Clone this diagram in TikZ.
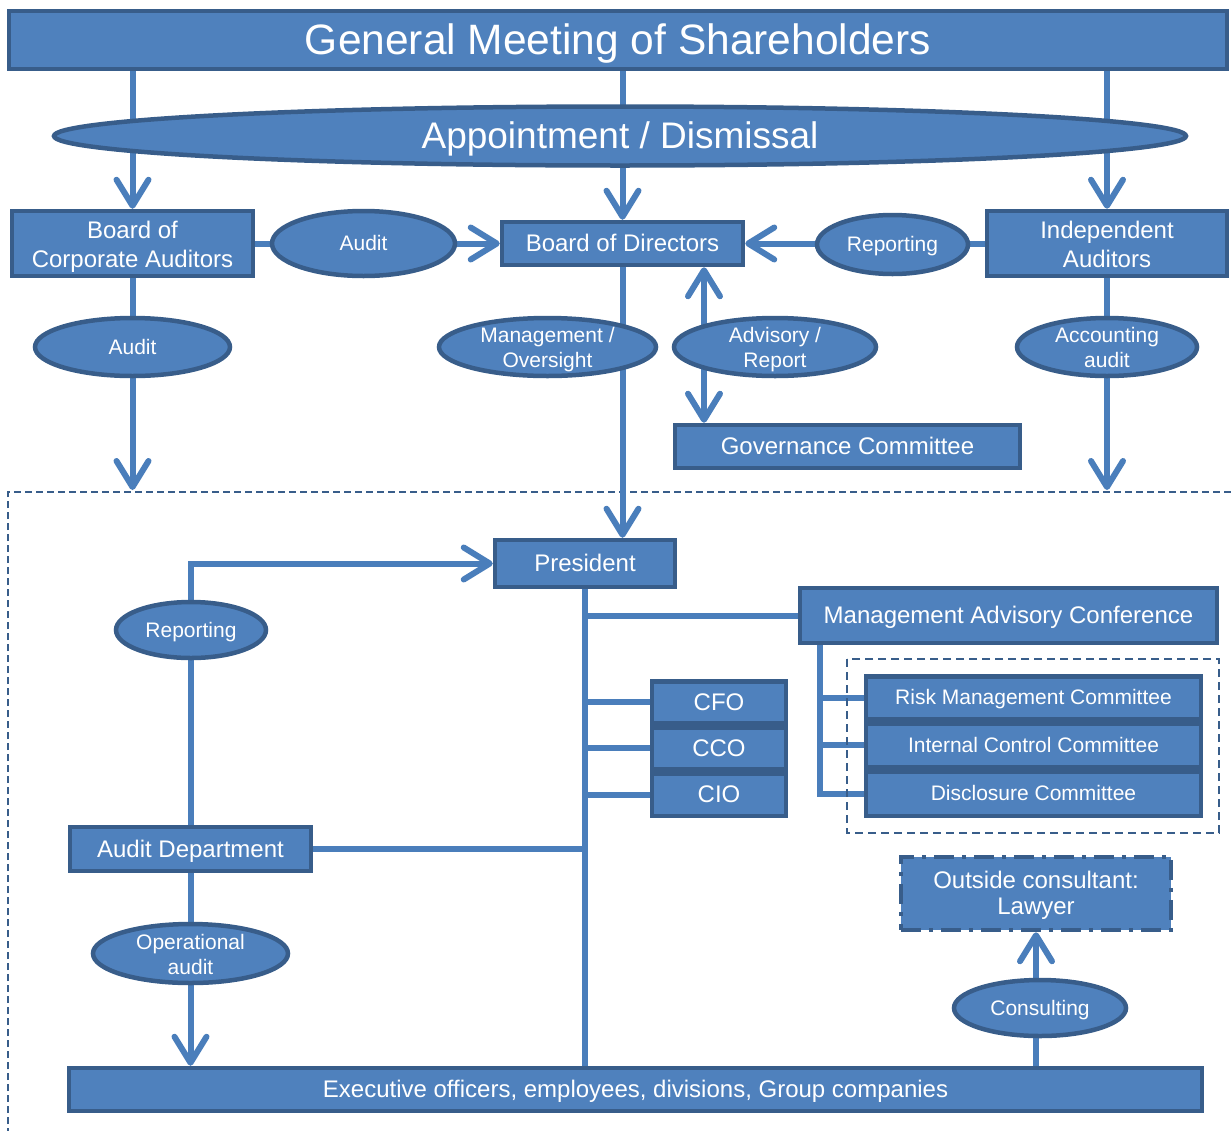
\documentclass[tikz,border=0pt]{standalone}
\usepackage{fontspec}
\setmainfont{Liberation Sans}
\usetikzlibrary{shapes.geometric,arrows.meta}
\pgfdeclarelayer{background}
\pgfsetlayers{background,main}
\definecolor{fillb}{HTML}{4F81BD}
\definecolor{edgeb}{HTML}{385D8A}
\definecolor{lineb}{HTML}{4A7EBB}
\newcommand{\lnstrut}{\rule[-0.212em]{0pt}{1.117em}}
\begin{document}
\begin{tikzpicture}[x=1pt,y=-1pt,
 box/.style={draw=edgeb, fill=fillb, line width=4.5pt, text=white, inner sep=0pt, align=center, font=\fontsize{24}{29}\selectfont, execute at begin node=\lnstrut, execute at end node=\lnstrut},
 oval/.style={ellipse, draw=edgeb, fill=fillb, line width=4.5pt, inner sep=0pt},
 olab/.style={text=white, align=center, inner sep=0pt, font=\fontsize{21}{25}\selectfont, execute at begin node=\lnstrut, execute at end node=\lnstrut},
 blab/.style={olab, font=\fontsize{24}{29}\selectfont, yshift=-3pt},
 ml/.style={yshift=-3pt},
 conn/.style={draw=lineb, line width=6pt},
 barb/.tip={Straight Barb[length=26pt,width=32pt,line cap=round,line join=round]},
 arr/.style={conn, -barb},
 darr/.style={conn, barb-barb},
 frame/.style={draw=edgeb, line width=2pt, dash pattern=on 7pt off 4pt}
]
\useasboundingbox (0,0) rectangle (1231,1130);

% top
\node[box, minimum width=1218, minimum height=58, font=\fontsize{42.5}{48}\selectfont] (gms) at (618,40) {General Meeting of Shareholders};
\node[oval, minimum width=1132, minimum height=59, label={[olab, font=\fontsize{37}{42}\selectfont]center:Appointment / Dismissal}] (appt) at (620,136) {};

\node[box, minimum width=241, minimum height=65, label={[blab]center:Board of\\Corporate Auditors}] (bca) at (132.5,243.5) {};
\node[oval, minimum width=183, minimum height=65, label={[olab]center:Audit}] (aud1) at (363.5,243.5) {};
\node[box, minimum width=241, minimum height=43] (bod) at (622.5,243.5) {Board of Directors};
\node[oval, minimum width=151, minimum height=59, label={[olab]center:Reporting}] (rep1) at (892.5,244.5) {};
\node[box, minimum width=240, minimum height=65, label={[blab]center:Independent\\Auditors}] (ia) at (1107,243.5) {};

\node[oval, minimum width=195, minimum height=58, label={[olab]center:Audit}] (aud2) at (132.5,347) {};
\node[oval, minimum width=217, minimum height=58, label={[olab, ml]center:Management /\\Oversight}] (mgmt) at (547.5,347) {};
\node[oval, minimum width=202, minimum height=58, label={[olab, ml]center:Advisory /\\Report}] (adv) at (775,347) {};
\node[oval, minimum width=180, minimum height=58, label={[olab, ml]center:Accounting\\audit}] (acct) at (1107,347) {};
\node[box, minimum width=345, minimum height=43] (gov) at (847.5,446.5) {Governance Committee};

% lower
\node[box, minimum width=180, minimum height=47] (pres) at (585,563.5) {President};
\node[oval, minimum width=150, minimum height=56, label={[olab]center:Reporting}] (rep2) at (191,630) {};
\node[box, minimum width=417, minimum height=55] (mac) at (1008.5,615.5) {Management Advisory Conference};
\node[box, minimum width=134, minimum height=41.5] (cfo) at (719,702) {CFO};
\node[box, minimum width=134, minimum height=41.5] (cco) at (719,748) {CCO};
\node[box, minimum width=134, minimum height=42.5] (cio) at (719,794.5) {CIO};
\draw[draw=edgeb, line width=2.5pt, dash pattern=on 8pt off 5pt] (847,659) rectangle (1219,833);
\node[box, minimum width=335, minimum height=42.5, font=\fontsize{21}{25}\selectfont] (risk) at (1033.5,697.5) {Risk Management Committee};
\node[box, minimum width=335, minimum height=43.5, font=\fontsize{21}{25}\selectfont] (ic) at (1033.5,745) {Internal Control Committee};
\node[box, minimum width=335, minimum height=44.5, font=\fontsize{21}{25}\selectfont] (disc) at (1033.5,793.5) {Disclosure Committee};
\node[box, minimum width=241, minimum height=44] (ad) at (190.5,849) {Audit Department};
\node[oval, minimum width=195, minimum height=59, label={[olab, ml]center:Operational\\audit}] (op) at (190.5,953.5) {};
\node[box, minimum width=270, minimum height=73, dash pattern=on 20pt off 8pt on 4pt off 8pt, label={[blab, font=\fontsize{24}{26}\selectfont, yshift=1pt]center:Outside consultant:\\Lawyer}] (law) at (1036,893.5) {};
\node[oval, minimum width=172, minimum height=56, label={[olab]center:Consulting}] (cons) at (1040,1008) {};
\node[box, minimum width=1133, minimum height=43] (exec) at (635.5,1089.5) {Executive officers, employees, divisions, Group companies};

\coordinate (ftop) at (0,490);
\coordinate (xa) at (704,0);
\coordinate (xb) at (820,0);

\begin{pgfonlayer}{background}
\draw[frame] (8,1135) -- (8,492) -- (1235,492);
\draw[arr] (gms.south -| bca.north) -- (bca.north);
\draw[arr] (gms.south -| bod.north) -- (bod.north);
\draw[arr] (gms.south -| ia.north) -- (ia.north);
\draw[arr] (bca.east) -- (bod.west);
\draw[arr] (ia.west) -- (bod.east);
\draw[arr] (bca.south) -- (bca.south |- ftop);
\draw[arr] (ia.south) -- (ia.south |- ftop);
\draw[arr] (bod.south) -- (bod.south |- pres.north);
\draw[darr] (bod.south -| xa) -- (gov.north -| xa);
\draw[conn] (pres.south) -- (pres.south |- exec.north);
\draw[arr] (ad.north) |- (pres.west);
\draw[conn] (ad.east) -- (ad.east -| pres.south);
\draw[arr] (ad.south) -- (ad.south |- exec.north);
\draw[conn] (pres.south |- mac.west) -- (mac.west);
\draw[conn] (pres.south |- cfo.west) -- (cfo.west);
\draw[conn] (pres.south |- cco.west) -- (cco.west);
\draw[conn] (pres.south |- cio.west) -- (cio.west);
\draw[conn] (mac.south -| xb) |- (disc.west);
\draw[conn] (xb |- risk.west) -- (risk.west);
\draw[conn] (xb |- ic.west) -- (ic.west);
\draw[arr] (law.south |- exec.north) -- (law.south);
\end{pgfonlayer}
\end{tikzpicture}
\end{document}
